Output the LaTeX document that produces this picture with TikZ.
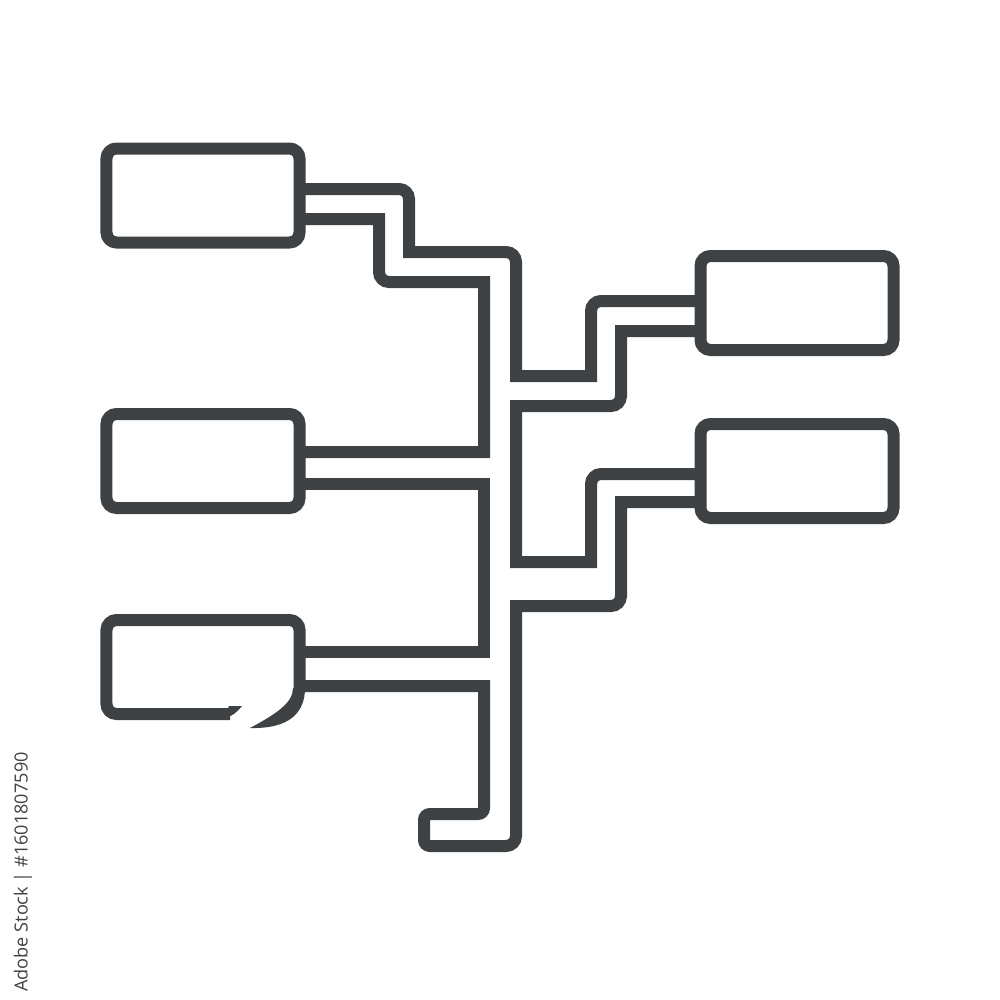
\documentclass[tikz,border=0pt]{standalone}
\usepackage{fontspec}
\newfontfamily\stockfont{Open Sans}
\usepackage{xcolor}
\usetikzlibrary{positioning}
\definecolor{iconGray}{RGB}{63,66,68}

\tikzset{
  box/.style={draw=iconGray, line width=2.4mm, rounded corners=2mm,
    minimum width=38.6mm, minimum height=18.8mm, inner sep=0pt, outer sep=0pt},
  pipe/.style={draw=iconGray, line width=2.4mm, line join=miter},
  wmark/.style={font=\stockfont\fontsize{10.3}{12}\selectfont, text=iconGray, inner sep=0pt},
}

\begin{document}
\begin{tikzpicture}[x=0.2mm,y=0.2mm,yscale=-1]
\useasboundingbox[fill=white] (0,0) rectangle (1000,1000);

% Boxes on the left
\node[box] (box1) at (203,195.5) {};
\node[box, below=34.3mm of box1] (box2) {};
\node[box, draw=none, below=22.4mm of box2] (box3) {};
% Boxes on the right
\node[box] (boxA) at (797,303) {};
\node[box, below=14.8mm of boxA] (boxB) {};

% Box 3 outline, broken at the lower right
\draw[pipe, rounded corners=2mm] (box3.south -| 230,0) -- (box3.south west) -- (box3.north west) -- (box3.north east) -- (box3.east |- 0,690);
\fill[iconGray] (229,706) -- (242,706) .. controls (237,712) and (232,717) .. (224,718) -- cycle;
\fill[iconGray] (250,728) .. controls (276,714) and (293,703) .. (293,688) -- (305,688) .. controls (305,713) and (289,729) .. (250,728) -- cycle;

% Pipes
\draw[pipe] (box1.east |- 0,189) [rounded corners=2mm] -- (409,189) [sharp corners] -- (409,252) [rounded corners=2mm] -- (516,252) [sharp corners] -- (516,376) -- (591,376) [rounded corners=2mm] -- (591,301) [sharp corners] -- (boxA.west |- 0,301);
\draw[pipe] (boxA.west |- 0,331) -- (621,331) [rounded corners=2mm] -- (621,406) [sharp corners] -- (516,406) -- (516,562) -- (591,562) [rounded corners=2mm] -- (591,474) [sharp corners] -- (boxB.west |- 0,474);
\draw[pipe] (boxB.west |- 0,502) -- (621,502) [rounded corners=2mm] -- (621,606) [sharp corners] -- (516,606) [rounded corners=2mm] -- (516,846) [rounded corners=1.2mm] -- (424,846) -- (424,814) -- (484,814) [sharp corners] -- (484,686) -- (box3.east |- 0,686);
\draw[pipe] (box3.east |- 0,652) -- (484,652) -- (484,484) -- (box2.east |- 0,484);
\draw[pipe] (box2.east |- 0,452) -- (484,452) -- (484,282) [rounded corners=2mm] -- (379,282) [sharp corners] -- (379,219) -- (box1.east |- 0,219);

% Stock mark
\node[wmark, rotate=90] (stock) at (23,872) {Adobe Stock | \#1601807590};
\end{tikzpicture}
\end{document}
